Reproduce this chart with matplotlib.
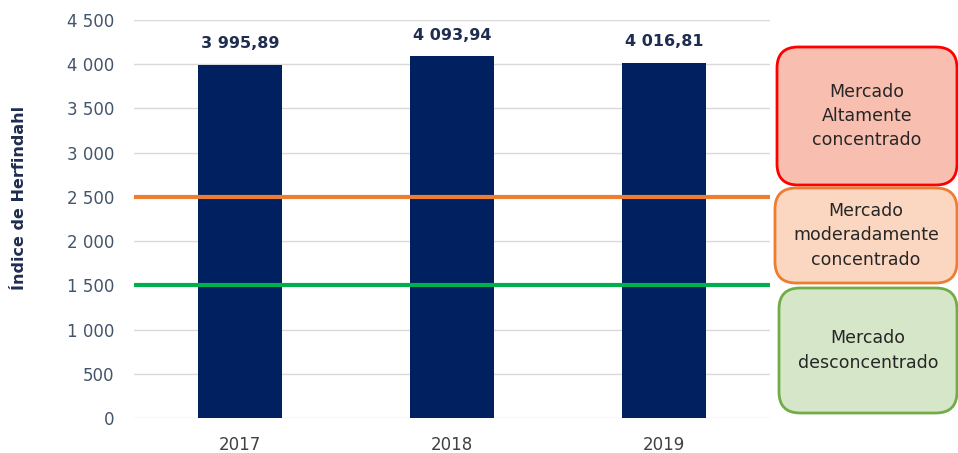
import matplotlib.pyplot as plt
from matplotlib.patches import FancyBboxPatch

years = ['2017', '2018', '2019']
hhi = [3995.89, 4093.94, 4016.81]
limits = [2500, 1500]
limit_colors = ['#ED7D31', '#00B050']
box_texts = ['Mercado\nAltamente\nconcentrado', 'Mercado\nmoderadamente\nconcentrado', 'Mercado\ndesconcentrado']

plt.rcParams['font.family'] = ['DejaVu Sans']

fig = plt.figure(figsize=(9.58, 4.53), dpi=100)
ax = fig.add_axes([134/958, 35/453, 636/958, 398/453])

x = range(len(years))
ax.bar(x, hhi, width=0.4, color='#002060', zorder=3)
for i, v in enumerate(hhi):
    s = f'{v:,.2f}'.replace(',', ' ').replace('.', ',')
    ax.text(i, v + 150, s, ha='center', va='bottom', fontsize=11.5,
            fontweight='bold', color='#1F2D4F', zorder=4)

for lim, c in zip(limits, limit_colors):
    ax.axhline(lim, color=c, lw=3, zorder=4)

ax.set_xlim(-0.5, 2.5)
ax.set_ylim(0, 4500)
ax.set_xticks(list(x))
ax.set_xticklabels(years)
ax.set_yticks(range(0, 4501, 500))
ax.set_yticklabels([f'{t:,}'.replace(',', ' ') for t in range(0, 4501, 500)])
ax.tick_params(length=0, labelsize=12, labelcolor='#44546A', pad=14)
ax.tick_params(axis='x', labelcolor='#404040', labelsize=12, pad=13)
ax.grid(axis='y', color='#D9D9D9', lw=1, zorder=0)
for sp in ax.spines.values():
    sp.set_visible(False)
fig.text(20/958, 1 - 198/453, 'Índice de Herfindahl', rotation=90,
         ha='center', va='center', fontsize=11.5, fontweight='bold',
         color='#1F2D4F')

# zone boxes on the right
boxes = [
    (777, 957, 47, 185, '#FF0000', '#F8BFB0'),
    (775, 957, 188, 283, '#ED7D31', '#FBD6C0'),
    (779, 957, 288, 413, '#70AD47', '#D6E6C9'),
]
for (x0, x1, top, bot, ec, fc), txt in zip(boxes, box_texts):
    p = FancyBboxPatch((x0/958, 1 - bot/453), (x1 - x0)/958, (bot - top)/453,
                       boxstyle='round,pad=0,rounding_size=0.022',
                       transform=fig.transFigure, facecolor=fc, edgecolor=ec,
                       lw=2, mutation_aspect=958/453)
    fig.patches.append(p)
    fig.text((x0 + x1)/2/958, 1 - (top + bot)/2/453, txt, ha='center',
             va='center', fontsize=12.5, color='#262626', linespacing=1.45)

fig.savefig('out.png', dpi=100)
